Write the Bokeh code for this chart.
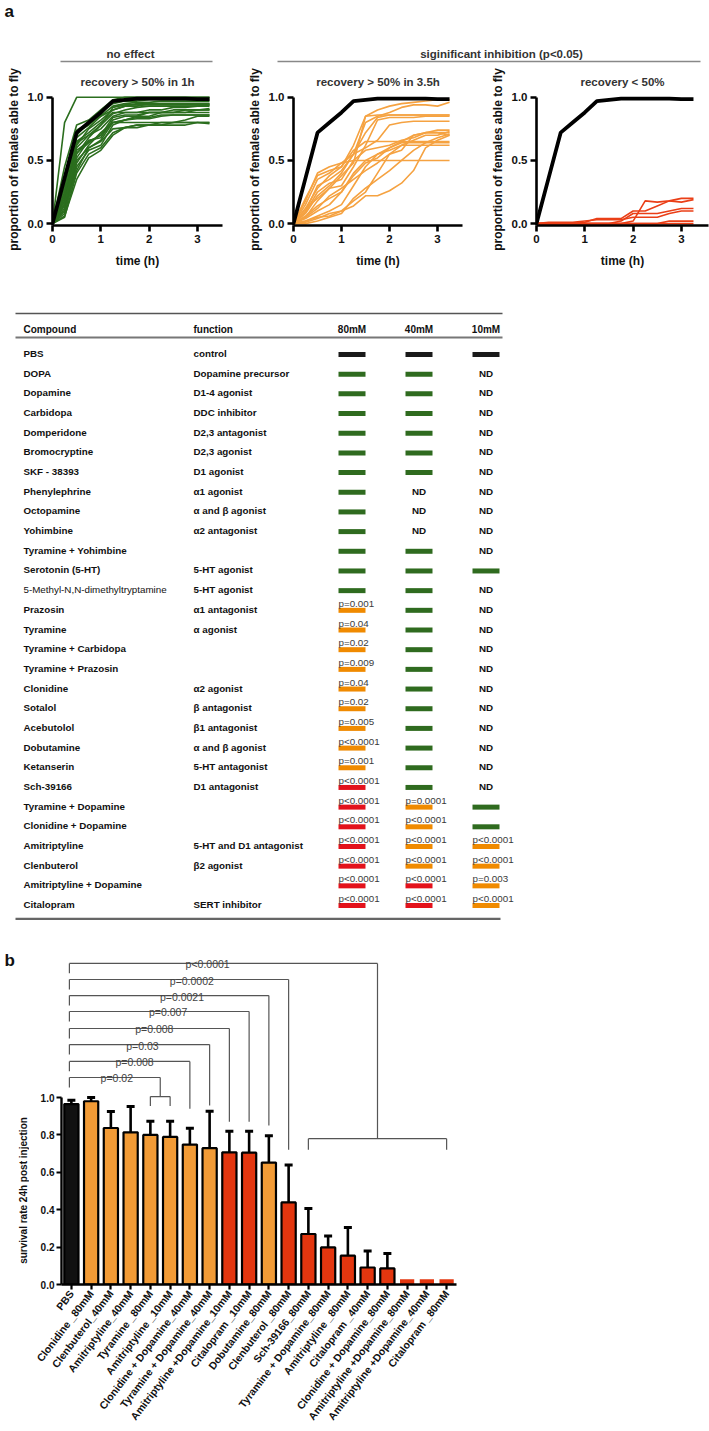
import math
from bokeh.plotting import figure
from bokeh.layouts import column, row
from bokeh.models import Range1d, FixedTicker, PrintfTickFormatter, ColumnDataSource
from bokeh.core.properties import value
from bokeh.embed import file_html
from bokeh.resources import INLINE

FONT = "Liberation Sans"

# ---------------- data: panel a (recovery curves) ----------------
time_h = [0, 0.25, 0.5, 0.75, 1.0, 1.25, 1.5, 1.75, 2.0, 2.25, 2.5, 2.75, 3.0, 3.25]
pbs_curve = [0, 0.36, 0.72, 0.80, 0.88, 0.97, 0.98, 0.99, 0.99, 0.99, 0.99, 0.99, 0.985, 0.985]

green_curves = [
    [0, .80, 1.0, 1.0, 1.0, 1.0, 1.0, 1.0, 1.0, 1.0, 1.0, 1.0, 1.0, 1.0],
    [0, .45, .78, .82, .90, .98, 1.0, 1.0, 1.0, 1.0, 1.0, 1.0, 1.0, 1.0],
    [0, .30, .70, .80, .88, .95, .97, .97, .98, .98, .98, .98, .98, .98],
    [0, .20, .62, .75, .82, .90, .93, .95, .95, .95, .95, .95, .95, .95],
    [0, .15, .55, .68, .78, .87, .90, .92, .93, .93, .93, .93, .93, .93],
    [0, .10, .48, .62, .72, .80, .82, .85, .88, .88, .90, .90, .90, .90],
    [0, .05, .40, .55, .60, .72, .76, .78, .78, .80, .80, .80, .80, .80],
    [0, .25, .58, .65, .70, .80, .80, .80, .80, .80, .80, .80, .80, .79],
    [0, .12, .50, .60, .65, .75, .76, .76, .78, .78, .80, .82, .85, .85],
    [0, .35, .65, .72, .80, .88, .88, .88, .88, .88, .88, .88, .88, .88],
    [0, .18, .60, .70, .75, .85, .88, .88, .90, .90, .92, .92, .93, .94],
    [0, .08, .45, .58, .62, .78, .82, .84, .84, .86, .86, .86, .86, .86],
    [0, .22, .68, .76, .85, .93, .95, .96, .96, .97, .97, .97, .97, .97],
    [0, .14, .52, .66, .68, .82, .85, .85, .85, .88, .88, .88, .90, .91],
    [0, .28, .72, .78, .86, .98, .98, .98, .99, .99, .99, .99, .99, .99],
    [0, .06, .35, .52, .58, .70, .76, .78, .78, .78, .78, .78, .80, .80],
    [0, .16, .56, .64, .70, .84, .86, .86, .88, .88, .88, .90, .90, .90],
    [0, .38, .74, .80, .85, .90, .93, .93, .95, .95, .95, .95, .95, .95],
    [0, .10, .42, .60, .66, .80, .82, .83, .83, .85, .86, .86, .86, .86],
    [0, .24, .64, .70, .78, .92, .94, .94, .94, .94, .94, .94, .94, .94],
]

orange_curves = [
    [0, .12, .28, .38, .45, .62, .85, .90, .93, .95, .96, .97, .98, .98],
    [0, .08, .22, .30, .40, .55, .80, .85, .88, .92, .94, .94, .93, .96],
    [0, .10, .30, .35, .42, .55, .72, .84, .86, .86, .86, .86, .86, .86],
    [0, .05, .18, .28, .30, .45, .62, .82, .84, .84, .84, .85, .85, .85],
    [0, .15, .35, .40, .48, .55, .60, .66, .78, .80, .81, .81, .81, .81],
    [0, .02, .06, .10, .15, .30, .45, .55, .60, .65, .70, .72, .74, .74],
    [0, .04, .10, .15, .25, .40, .50, .55, .58, .62, .66, .70, .70, .73],
    [0, .00, .02, .05, .08, .20, .28, .35, .42, .50, .58, .64, .68, .71],
    [0, .06, .14, .20, .25, .38, .48, .52, .60, .64, .64, .64, .64, .64],
    [0, .01, .04, .08, .10, .18, .25, .40, .55, .62, .62, .62, .62, .62],
    [0, .18, .40, .45, .48, .50, .50, .50, .50, .50, .50, .50, .50, .50],
    [0, .02, .05, .06, .10, .14, .22, .22, .26, .32, .42, .60, .66, .70],
    [0, .20, .38, .42, .45, .58, .65, .65, .65, .65, .65, .65, .65, .65],
    [0, .09, .25, .32, .35, .50, .58, .60, .62, .66, .68, .72, .72, .72],
    [0, .12, .20, .28, .38, .48, .85, .86, .86, .86, .86, .86, .86, .86],
    [0, .05, .12, .22, .28, .35, .42, .48, .55, .58, .70, .72, .72, .70],
]

red_curves = [
    [0, 0, 0, 0, 0, 0, 0, 0, .02, .18, .17, .18, .20, .20],
    [0, 0, 0, 0, .01, .04, .04, .04, .10, .10, .14, .18, .17, .19],
    [0, 0, 0, 0, 0, 0, 0, .02, .08, .08, .08, .10, .12, .12],
    [0, .01, .01, .01, .02, .03, .03, .03, .05, .05, .05, .08, .10, .10],
    [0, 0, 0, 0, 0, 0, 0, 0, 0, 0, 0, .02, .02, .02],
    [0, 0, 0, 0, 0, 0, 0, 0, 0, 0, 0, 0, 0, 0],
]

panel_titles = ["recovery > 50% in 1h", "recovery > 50% in 3.5h", "recovery < 50%"]
group_titles = ["no effect", "siginificant inhibition (p<0.05)"]

# ---------------- data: table ----------------
compounds = ["PBS", "DOPA", "Dopamine", "Carbidopa", "Domperidone", "Bromocryptine",
             "SKF     - 38393", "Phenylephrine", "Octopamine", "Yohimbine", "Tyramine + Yohimbine",
             "Serotonin (5-HT)", "5-Methyl-N,N-dimethyltryptamine", "Prazosin", "Tyramine",
             "Tyramine + Carbidopa", "Tyramine + Prazosin", "Clonidine", "Sotalol", "Acebutolol",
             "Dobutamine", "Ketanserin", "Sch-39166", "Tyramine + Dopamine", "Clonidine + Dopamine",
             "Amitriptyline", "Clenbuterol", "Amitriptyline + Dopamine", "Citalopram"]
functions = ["control", "Dopamine precursor", "D1-4 agonist", "DDC inhibitor", "D2,3 antagonist",
             "D2,3 agonist", "D1 agonist", "\u03b11 agonist", "\u03b1 and \u03b2  agonist", "\u03b12 antagonist", "",
             "5-HT agonist", "5-HT agonist", "\u03b11 antagonist", "\u03b1 agonist", "", "",
             "\u03b12 agonist", "\u03b2 antagonist", "\u03b21 antagonist", "\u03b1 and \u03b2 agonist",
             "5-HT antagonist", "D1 antagonist", "", "", "5-HT and D1 antagonist", "\u03b22 agonist", "",
             "SERT inhibitor"]
concentrations = ["80mM", "40mM", "10mM"]
# k = control, g = no effect, o = recovery in 3.5h, r = recovery < 50%, ND = not done
status_80 = ["k", "g", "g", "g", "g", "g", "g", "g", "g", "g", "g", "g", "g",
             "o", "o", "o", "o", "o", "o", "o", "o", "o", "r", "r", "r", "r", "r", "r", "r"]
status_40 = ["k", "g", "g", "g", "g", "g", "g", "ND", "ND", "ND", "g", "g", "g",
             "g", "g", "g", "g", "g", "g", "g", "g", "g", "g", "o", "o", "o", "o", "r", "r"]
status_10 = ["k", "ND", "ND", "ND", "ND", "ND", "ND", "ND", "ND", "ND", "ND", "g", "ND",
             "ND", "ND", "ND", "ND", "ND", "ND", "ND", "ND", "ND", "ND", "g", "g", "o", "o", "o", "o"]
pval_80 = [""] * 13 + ["p=0.001", "p=0.04", "p=0.02", "p=0.009", "p=0.04", "p=0.02", "p=0.005",
                       "p<0.0001", "p=0.001", "p<0.0001", "p<0.0001", "p<0.0001", "p<0.0001",
                       "p<0.0001", "p<0.0001", "p<0.0001"]
pval_40 = [""] * 23 + ["p=0.0001", "p<0.0001", "p<0.0001", "p<0.0001", "p<0.0001", "p<0.0001"]
pval_10 = [""] * 25 + ["p<0.0001", "p<0.0001", "p=0.003", "p<0.0001"]

# ---------------- data: panel b (survival) ----------------
bar_names = ["PBS", "Clonidine _80mM", "Clenbuterol_40mM", "Amitriptyline_40mM", "Tyramine _80mM",
             "Amitriptyline _10mM", "Clonidine + Dopamine_40mM", "Tyramine + Dopamine_40mM",
             "Amitriptyline +Dopamine_10mM", "Citalopram _10mM", "Dobutamine_80mM", "Clenbuterol _80mM",
             "Sch-39166_80mM", "Tyramine + Dopamine_80mM", "Amitriptyline _80mM", "Citalopram _40mM",
             "Clonidine + Dopamine_80mM", "Amitriptyline +Dopamine_80mM", "Amitriptyline +Dopamine_40mM",
             "Citalopram _80mM"]
survival = [0.965, 0.98, 0.837, 0.814, 0.80, 0.789, 0.748, 0.729, 0.707, 0.705, 0.652, 0.439,
            0.27, 0.198, 0.154, 0.091, 0.086, 0.0, 0.0, 0.0]
survival_sem = [0.02, 0.02, 0.088, 0.138, 0.073, 0.084, 0.088, 0.198, 0.113, 0.115, 0.143, 0.20,
                0.137, 0.061, 0.151, 0.088, 0.08, 0.0, 0.0, 0.0]
bar_group = ["k", "o", "o", "o", "o", "o", "o", "o", "r", "r", "o", "r", "r", "r", "r", "r", "r",
             "r", "r", "r"]
# comparisons with PBS: right end position, bracket level, drop end, label, label position
cmp_right = [5.0, 6.5, 7.5, 8.5, 9.5, 10.5, 11.5, 16.0]
cmp_level = [1.107, 1.193, 1.283, 1.369, 1.46, 1.545, 1.631, 1.717]
cmp_drop = [1.005, 0.94, 0.957, 0.87, 0.87, 0.85, 0.72, 0.78]
cmp_label = ["p=0.02", "p=0.008", "p=0.03", "p=0.008", "p=0.007", "p=0.0021", "p=0.0002", "p<0.0001"]
cmp_label_x = [2.8, 3.7, 4.1, 4.7, 5.4, 6.1, 6.6, 7.4]
sub_left = [4.5, 12.5]
sub_right = [5.5, 19.5]
sub_level = [1.005, 0.78]
sub_drop = [0.955, 0.72]
survival_ylabel = "survival rate 24h post injection"

# ---------------- styles ----------------
LINE_GREEN, LINE_ORANGE, LINE_RED = "#2b6e1e", "#f5a241", "#ea3f17"
TAB_COL = {"k": "#1a1a1a", "g": "#2f6b1f", "o": "#f08a00", "r": "#e3121b"}
BAR_COL = {"k": "#111111", "o": "#f29b36", "r": "#e3360f"}


def blank(width, height):
    p = figure(width=width, height=height, x_range=Range1d(0, width), y_range=Range1d(height, 0),
               x_axis_location=None, y_axis_location=None, toolbar_location=None,
               output_backend="svg", min_border=0, outline_line_color=None)
    p.grid.visible = False
    return p


# ---------------- header of panel a ----------------
hdr_h = 64
hdr = blank(709, hdr_h)
hdr.text(x=[4], y=[11], text=["a"], text_font=value(FONT), text_font_size="17px",
         text_font_style="bold", text_baseline="alphabetic", text_align="left", text_color="#111")
hdr.text(x=[130, 501], y=[53, 53], text=group_titles, text_font=value(FONT), text_font_size="11.5px",
         text_font_style="bold", text_baseline="middle", text_align="center", text_color="#333")
hdr.segment(x0=[60, 277], y0=[61, 61], x1=[212, 700], y1=[61, 61], line_color="#888", line_width=1.5)


def line_panel(curves, color, title, width, bl, br, title_offset):
    frame_w = width - bl - br
    p = figure(width=width, height=241, x_range=Range1d(0, frame_w / 48.3),
               y_range=Range1d(-0.015, 1.03), toolbar_location=None, output_backend="svg",
               min_border_left=bl, min_border_right=br, min_border_top=29, min_border_bottom=80,
               outline_line_color=None, title=title)
    p.title.align = "center"
    p.title.text_font = FONT
    p.title.text_font_size = "11.5px"
    p.title.text_font_style = "bold"
    p.title.text_color = "#333"
    p.title.standoff = 11
    p.title.offset = title_offset
    p.grid.visible = False
    p.multi_line(xs=[time_h] * len(curves), ys=curves, line_color=color, line_width=1.6)
    p.line(time_h, pbs_curve, line_color="black", line_width=3.8)
    p.xaxis.ticker = FixedTicker(ticks=[0, 1, 2, 3])
    p.yaxis.ticker = FixedTicker(ticks=[0, 0.5, 1.0])
    p.yaxis.formatter = PrintfTickFormatter(format="%.1f")
    p.yaxis.bounds = (-0.015, 1.0)
    p.xaxis.axis_label = "time (h)"
    p.yaxis.axis_label = "proportion of females able to fly"
    for ax in (p.xaxis, p.yaxis):
        ax.axis_line_width = 2.6
        ax.major_tick_line_width = 2.6
        ax.major_tick_out = 6
        ax.major_tick_in = 0
        ax.minor_tick_line_color = None
        ax.major_label_text_font = FONT
        ax.major_label_text_font_size = "11.5px"
        ax.major_label_text_font_style = "bold"
        ax.major_label_text_color = "#111"
        ax.major_label_standoff = 3
        ax.axis_label_text_font = FONT
        ax.axis_label_text_font_size = "12px"
        ax.axis_label_text_font_style = "bold"
        ax.axis_label_text_color = "#111"
    p.xaxis.axis_label_standoff = 8
    p.yaxis.axis_label_standoff = 4
    return p


f1 = line_panel(green_curves, LINE_GREEN, panel_titles[0], 244, 52, 22, -9)
f2 = line_panel(orange_curves, LINE_ORANGE, panel_titles[1], 242, 48, 24, 6)
f3 = line_panel(red_curves, LINE_RED, panel_titles[2], 223, 50, 1, 2)

# ---------------- table ----------------
row_h = 19.68
tbl_h = 625
top_v = (305 - 353) / row_h
tbl = figure(width=709, height=tbl_h, x_range=Range1d(0, 709),
             y_range=Range1d(top_v + tbl_h / row_h, top_v), x_axis_location=None,
             y_axis_location=None, toolbar_location=None, output_backend="svg", min_border=0,
             outline_line_color=None)
tbl.grid.visible = False
rows = list(range(len(compounds)))
col_compound, col_function = 23, 193
col_conc = [351.5, 418.5, 485.5]
head_y = -1.22

tbl.segment(x0=[15, 15, 15], x1=[502, 502, 500], y0=[-2.03, -0.81, 28.73], y1=[-2.03, -0.81, 28.73],
            line_color=["#555", "#777", "#666"], line_width=[1.5, 2, 2.2])
tbl.text(x=[col_compound, col_function], y=[head_y, head_y], text=["Compound", "function"],
         text_font=value(FONT), text_font_size="10px", text_font_style="bold",
         text_baseline="middle", text_align="left", text_color="#111")
tbl.text(x=col_conc, y=[head_y] * 3, text=concentrations, text_font=value(FONT),
         text_font_size="10px", text_font_style="bold", text_baseline="middle",
         text_align="center", text_color="#111")
weights = ["normal" if c.startswith("5-Methyl") else "bold" for c in compounds]
tbl.text(x=[col_compound] * len(rows), y=rows, text=compounds, text_font=value(FONT),
         text_font_size="9.8px", text_font_style=weights, text_baseline="middle",
         text_align="left", text_color="#111")
tbl.text(x=[col_function] * len(rows), y=rows, text=functions, text_font=value(FONT),
         text_font_size="9.8px", text_font_style="bold", text_baseline="middle",
         text_align="left", text_color="#111")

for cx, st, pv in zip(col_conc, [status_80, status_40, status_10], [pval_80, pval_40, pval_10]):
    bars = [(i, TAB_COL[s]) for i, s in enumerate(st) if s in TAB_COL]
    src = ColumnDataSource(dict(x=[cx] * len(bars), y=[b[0] + 0.05 for b in bars],
                                c=[b[1] for b in bars]))
    tbl.rect(x="x", y="y", width=27, height=5, height_units="screen", fill_color="c",
             line_color=None, source=src)
    nd = [i for i, s in enumerate(st) if s == "ND"]
    tbl.text(x=[cx] * len(nd), y=nd, text=["ND"] * len(nd), text_font=value(FONT),
             text_font_size="9.8px", text_font_style="bold", text_baseline="middle",
             text_align="center", text_color="#111")
    pl = [(i, t) for i, t in enumerate(pv) if t]
    tbl.text(x=[cx - 13.5] * len(pl), y=[q[0] for q in pl], text=[q[1] for q in pl],
             y_offset=-6, text_font=value(FONT), text_font_size="9.8px", text_baseline="middle",
             text_align="left", text_color="#3a3a3a")

# ---------------- panel b ----------------
bar_h = 500
side_w = 29
side = blank(side_w, bar_h)
side.text(x=[4], y=[30], text=["b"], text_font=value(FONT), text_font_size="17px",
          text_font_style="bold", text_baseline="alphabetic", text_align="left", text_color="#111")
side.text(x=[23], y=[1190 - 930], text=[survival_ylabel], angle=math.pi / 2,
          text_font=value(FONT), text_font_size="10px", text_font_style="bold",
          text_baseline="middle", text_align="center", text_color="#111")

n = len(bar_names)
bx = [i + 0.5 for i in range(n)]
frame_top_px, zero_px, unit_px = 945 - 930, 1284 - 930, 187.0
ymax = (zero_px - frame_top_px) / unit_px
bp_left = 61 - side_w
bp_w = 709 - side_w
bp = figure(width=bp_w, height=bar_h, x_range=Range1d(0, n), y_range=Range1d(0, ymax),
            toolbar_location=None, output_backend="svg", min_border_left=bp_left,
            min_border_right=bp_w - bp_left - 395, min_border_top=frame_top_px,
            min_border_bottom=bar_h - zero_px, outline_line_color=None)
bp.grid.visible = False

# comparison brackets
bp.segment(x0=[0.4] * len(cmp_right), x1=cmp_right, y0=cmp_level, y1=cmp_level,
           line_color="#555", line_width=1.2)
bp.segment(x0=[0.4] * len(cmp_right), x1=[0.4] * len(cmp_right), y0=cmp_level,
           y1=[v - 0.053 for v in cmp_level], line_color="#555", line_width=1.2)
bp.segment(x0=cmp_right, x1=cmp_right, y0=cmp_level, y1=cmp_drop, line_color="#555", line_width=1.2)
bp.segment(x0=sub_left, x1=sub_right, y0=sub_level, y1=sub_level, line_color="#555", line_width=1.2)
bp.segment(x0=sub_left + sub_right, x1=sub_left + sub_right, y0=sub_level + sub_level,
           y1=sub_drop + sub_drop, line_color="#555", line_width=1.2)
bp.text(x=cmp_label_x, y=cmp_level, text=cmp_label, text_font=value(FONT), text_font_size="10.5px",
        text_baseline="alphabetic", text_align="center", y_offset=1, text_color="#444")

# bars
nz = [i for i in range(n) if survival[i] > 0]
z = [i for i in range(n) if survival[i] == 0]
bsrc = ColumnDataSource(dict(x=[bx[i] for i in nz], top=[survival[i] for i in nz],
                             c=[BAR_COL[bar_group[i]] for i in nz],
                             up=[survival[i] + survival_sem[i] for i in nz]))
bp.segment(x0="x", x1="x", y0="top", y1="up", line_color="black", line_width=2.6, source=bsrc)
bp.scatter(x="x", y="up", marker="dash", size=8, line_width=3, line_color="black", source=bsrc)
bp.vbar(x="x", top="top", width=0.72, fill_color="c", line_color="black", line_width=2.2,
        source=bsrc)
bp.vbar(x=[bx[i] for i in z], top=[0.028] * len(z), width=0.72,
        fill_color=[BAR_COL[bar_group[i]] for i in z], line_color=None)

bp.xaxis.ticker = FixedTicker(ticks=bx)
bp.xaxis.major_label_overrides = {x: nm for x, nm in zip(bx, bar_names)}
bp.xaxis.major_label_orientation = 0.92
bp.yaxis.ticker = FixedTicker(ticks=[0, 0.2, 0.4, 0.6, 0.8, 1.0])
bp.yaxis.formatter = PrintfTickFormatter(format="%.1f")
bp.yaxis.bounds = (0, 1.0)
for ax in (bp.xaxis, bp.yaxis):
    ax.axis_line_width = 2.4
    ax.major_tick_line_width = 2.2
    ax.major_tick_out = 5
    ax.major_tick_in = 0
    ax.minor_tick_line_color = None
    ax.major_label_text_font = FONT
    ax.major_label_text_font_style = "bold"
    ax.major_label_text_color = "#111"
    ax.major_label_standoff = 2
bp.yaxis.major_label_text_font_size = "10px"
bp.xaxis.major_label_text_font_size = "10.5px"

layout = column(row(hdr), row(f1, f2, f3), row(tbl), row(column(side), column(bp)))
open("out.html", "w").write(file_html(layout, INLINE))
